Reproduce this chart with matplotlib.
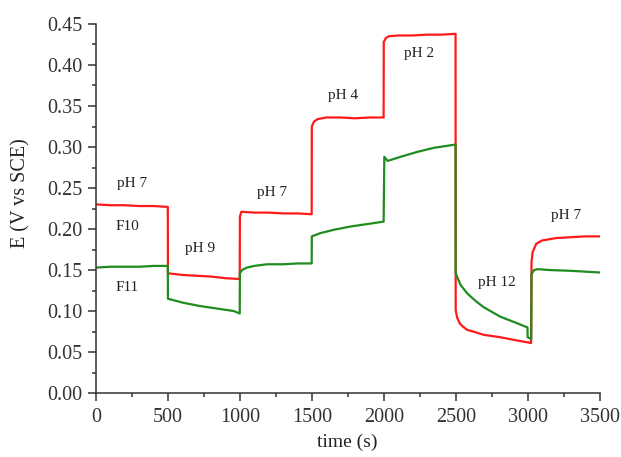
import matplotlib
matplotlib.use("Agg")
import matplotlib.pyplot as plt
from matplotlib.ticker import MultipleLocator, FormatStrFormatter

# F10 (red) readings
t_f10 = [0, 100, 200, 300, 400, 499,
         500, 600, 700, 800, 900, 999,
         1000, 1010, 1100, 1200, 1300, 1400, 1499,
         1500, 1515, 1540, 1600, 1700, 1800, 1900, 1999,
         2000, 2015, 2035, 2100, 2200, 2300, 2400, 2499,
         2500, 2510, 2528, 2550, 2580, 2640, 2694, 2811, 2928, 3024,
         3027, 3035, 3060, 3100, 3200, 3300, 3400, 3500]
e_f10 = [0.230, 0.229, 0.229, 0.228, 0.228, 0.227,
         0.146, 0.144, 0.143, 0.142, 0.140, 0.139,
         0.215, 0.221, 0.220, 0.220, 0.219, 0.219, 0.218,
         0.325, 0.331, 0.334, 0.336, 0.336, 0.335, 0.336, 0.336,
         0.428, 0.433, 0.435, 0.436, 0.436, 0.437, 0.437, 0.438,
         0.101, 0.092, 0.085, 0.081, 0.077, 0.074, 0.071, 0.068, 0.064, 0.061,
         0.160, 0.172, 0.182, 0.186, 0.189, 0.190, 0.191, 0.191]

# F11 (green) readings
t_f11 = [0, 100, 200, 300, 400, 499,
         500, 608, 725, 841, 957, 999,
         1000, 1015, 1049, 1100, 1188, 1300, 1400, 1499,
         1500, 1560, 1652, 1768, 1884, 1999,
         2004, 2027, 2116, 2232, 2348, 2499,
         2500, 2533, 2580, 2640, 2696, 2811, 2928, 2999,
         3000, 3025, 3027, 3045, 3069, 3150, 3300, 3500]
e_f11 = [0.153, 0.154, 0.154, 0.154, 0.155, 0.155,
         0.115, 0.110, 0.106, 0.103, 0.100, 0.097,
         0.146, 0.150, 0.153, 0.155, 0.157, 0.157, 0.158, 0.158,
         0.191, 0.195, 0.199, 0.203, 0.206, 0.209,
         0.288, 0.283, 0.288, 0.294, 0.299, 0.303,
         0.146, 0.132, 0.1215, 0.112, 0.1045, 0.093, 0.085, 0.080,
         0.068, 0.066, 0.145, 0.150, 0.151, 0.150, 0.149, 0.147]

# annotations: (text, time, E)
labels = [("pH 7", 250, 0.256), ("F10", 215, 0.203), ("F11", 215, 0.129),
          ("pH 9", 720, 0.176), ("pH 7", 1224, 0.245), ("pH 4", 1717, 0.363),
          ("pH 2", 2245, 0.414), ("pH 12", 2787, 0.135), ("pH 7", 3268, 0.217)]

plt.rcParams["font.family"] = ["Liberation Serif", "DejaVu Serif"]

fig = plt.figure(figsize=(6.21, 4.57), dpi=100)
ax = fig.add_axes([0.1546, 0.140, 0.8109, 0.8075])

ax.plot(t_f10, e_f10, color="#ff1a1a", lw=1.6)
ax.plot(t_f11, e_f11, color="#1e8c1e", lw=1.6)

for txt, tx, ey in labels:
    ax.text(tx, ey, txt, ha="center", va="center", fontsize=11, color="#222222")

ax.set_xlim(0, 3500)
ax.set_ylim(0, 0.45)
ax.xaxis.set_major_locator(MultipleLocator(500))
ax.xaxis.set_minor_locator(MultipleLocator(250))
ax.yaxis.set_major_locator(MultipleLocator(0.05))
ax.yaxis.set_minor_locator(MultipleLocator(0.025))
ax.yaxis.set_major_formatter(FormatStrFormatter("%.2f"))

for s in ("top", "right"):
    ax.spines[s].set_visible(False)
for s in ("left", "bottom"):
    ax.spines[s].set_color("#333333")
    ax.spines[s].set_linewidth(1.1)

ax.tick_params(which="major", direction="out", length=5.5, width=1.1,
               labelsize=14.5, colors="#333333", pad=4.5)
ax.tick_params(which="minor", direction="out", length=2.8, width=1.1,
               colors="#333333")
ax.tick_params(axis="x", which="major", pad=5)

ax.set_xlabel("time (s)", fontsize=14, color="#222222")
ax.set_ylabel("E (V vs SCE)", fontsize=14.5, color="#222222")
ax.xaxis.set_label_coords(0.498, -0.11)
ax.yaxis.set_label_coords(-0.131, 0.542)

fig.savefig("out.png", dpi=100, facecolor="white")
